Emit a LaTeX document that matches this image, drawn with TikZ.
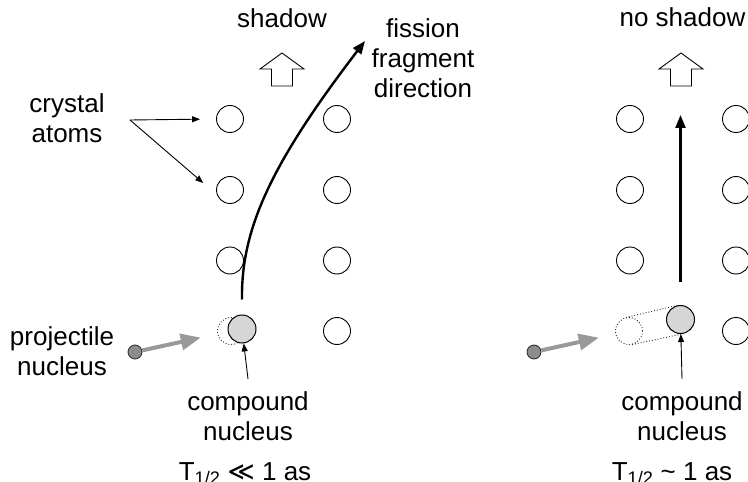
\documentclass[tikz,border=0pt]{standalone}
\usepackage{fontspec}
\setmainfont{Liberation Sans}
\newfontfamily\symfont{DejaVu Sans}
\usetikzlibrary{arrows.meta}

\begin{document}
\begin{tikzpicture}[
    x=1bp, y=-1bp,
    % Define styles for consistent formatting
    atom/.style={circle, draw=black, line width=0.9bp, minimum size=27bp, inner sep=0pt},
    ghost/.style={circle, draw=black!85, dotted, line width=0.9bp, minimum size=27bp, inner sep=0pt},
    ghostline/.style={draw=black!85, dotted, line width=0.9bp},
    compound/.style={circle, draw=black, fill=black!16, line width=1bp, minimum size=28bp, inner sep=0pt},
    projectile/.style={circle, draw=black!85, fill=black!45, line width=0.8bp, minimum size=14bp, inner sep=0pt},
    beam/.style={draw=black!40, line width=4bp, -{Triangle[length=20bp,width=16bp]}},
    track/.style={draw=black, line width=2.4bp, -{Triangle[length=13bp,width=10bp]}},
    pointer/.style={draw=black, line width=0.9bp, -{Triangle[length=8bp,width=6bp]}},
    textlabel/.style={font=\fontsize{26bp}{30bp}\selectfont, align=center, anchor=base, inner sep=0pt},
    hollow/.style={draw=black, fill=white, line width=0.9bp}
]
\useasboundingbox (0,0) rectangle (748,482);

% Crystal rows (upper three)
\foreach \col/\x in {a/230, b/337, c/630, d/736} {
    \foreach \row/\y in {1/119, 2/190, 3/260.5} {
        \node [atom] (\col\row) at (\x,\y) {};
    }
}
\node [atom] (b4) at (337,331) {};
\node [atom] (d4) at (736,331) {};

% Original lattice sites (dotted)
\node [ghost] (ghostL) at (231,331) {};
\node [ghost] (ghostR) at (629,331) {};

% Compound nuclei
\node [compound] (compL) at (242,329) {};
\node [compound] (compR) at (680.5,319.5) {};
\draw [ghostline] (ghostR.103) -- (compR.103);
\draw [ghostline] (ghostR.-77) -- (compR.-77);

% Projectiles
\node [projectile] (projL) at (135,352) {};
\node [projectile] (projR) at (534,352) {};
\draw [beam, shorten >=17bp] (projL) -- (ghostL);
\draw [beam, shorten >=17bp] (projR) -- (ghostR);

% Fission fragment tracks
\coordinate (tipL) at (365,41);
\coordinate (tipR) at (680.5,115);
\draw [track] ([yshift=15bp]compL.north) .. controls (241,230) and (270,165) .. (tipL);
\draw [track] ([yshift=23bp]compR.north) -- (tipR);

% Shadow arrows
\foreach \cx in {282, 681} {
    \draw [hollow] (\cx,53) -- (\cx+22,69) -- (\cx+10.5,69) -- (\cx+10.5,86)
        -- (\cx-10.5,86) -- (\cx-10.5,69) -- (\cx-22,69) -- cycle;
}

% Labels (anchored at the last baseline)
\node [textlabel] (shadowL) at (282,28) {shadow};
\node [textlabel] (shadowR) at (682.5,27) {no shadow};
\node [textlabel] (fission) at (423,98) {fission\\fragment\\direction};
\node [textlabel] (crystal) at (67,143) {crystal\\atoms};
\node [textlabel] (projtext) at (62,375) {projectile\\nucleus};
\node [textlabel] (cnL) at (248,440) {compound\\nucleus};
\node [textlabel] (cnR) at (682,440) {compound\\nucleus};
\node [textlabel] (halfL) at (245,480) {T\textsubscript{1/2} {\symfont ≪} 1 as};
\node [textlabel] (halfR) at (672,480) {T\textsubscript{1/2} \textasciitilde{} 1 as};

% Pointers
\coordinate (crys) at (130,120);
\draw [pointer, shorten >=16bp] (crys) -- (a1.west);
\draw [pointer, shorten >=18bp] (crys) -- (a2.200);
\draw [pointer] ([yshift=12bp]cnL.north) -- (compL);
\draw [pointer] ([yshift=12bp]cnR.north) -- (compR);

\end{tikzpicture}
\end{document}
